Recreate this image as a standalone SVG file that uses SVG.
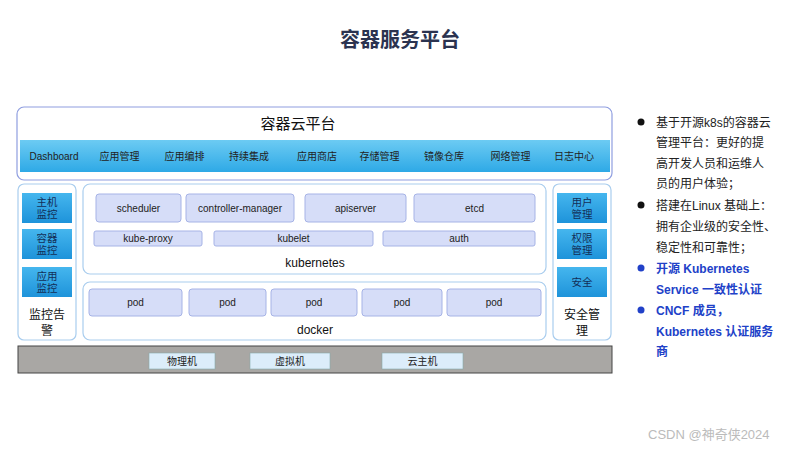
<svg xmlns="http://www.w3.org/2000/svg" width="800" height="450" viewBox="0 0 800 450">
<defs>
<linearGradient id="barG" x1="0" y1="0" x2="0" y2="1">
<stop offset="0" stop-color="#6ccbf3"/><stop offset="1" stop-color="#2ea9e6"/>
</linearGradient>
<linearGradient id="sideG" x1="0" y1="0" x2="0" y2="1">
<stop offset="0" stop-color="#45b6ee"/><stop offset="1" stop-color="#1e93da"/>
</linearGradient>
<style>
text{font-family:"Liberation Sans","Noto Sans CJK SC",sans-serif;}
.frame{fill:#fff;stroke:#a9cdee;stroke-width:1.2;}
.topframe{fill:#fff;stroke:#8f9ee0;stroke-width:1.2;}
.comp{fill:#d6ddf8;stroke:#a6b3e6;stroke-width:1;}
.side{fill:url(#sideG);}
.t10{font-size:10px;fill:#222;text-anchor:middle;}
.st{font-size:10.5px;fill:#132f58;text-anchor:middle;}
.lbl{font-size:12px;fill:#111;text-anchor:middle;}
.host{fill:#dcedfa;stroke:#8aa;stroke-width:0.6;}
.note{font-size:12px;fill:#222;}
.blue{font-size:12px;fill:#2141c8;font-weight:bold;}
</style>
</defs>
<rect width="800" height="450" fill="#fff"/>
<text x="400" y="47" font-size="20" font-weight="bold" fill="#2b3350" text-anchor="middle">容器服务平台</text>

<g id="cloud-platform">
<rect class="topframe" x="17" y="107" width="595" height="73" rx="7"/>
<text x="298" y="129" font-size="15" fill="#111" text-anchor="middle">容器云平台</text>
<rect x="20" y="140" width="590" height="32" fill="url(#barG)"/>
<g class="t10">
<text x="54" y="160">Dashboard</text>
<text x="119.5" y="160">应用管理</text>
<text x="184.5" y="160">应用编排</text>
<text x="249" y="160">持续集成</text>
<text x="317" y="160">应用商店</text>
<text x="379.5" y="160">存储管理</text>
<text x="444" y="160">镜像仓库</text>
<text x="510.5" y="160">网络管理</text>
<text x="574" y="160">日志中心</text>
</g>
</g>

<g id="monitor">
<rect class="frame" x="18" y="184" width="58" height="156" rx="6"/>
<rect class="side" x="22" y="193" width="50" height="30"/>
<rect class="side" x="22" y="229" width="50" height="30"/>
<rect class="side" x="22" y="267" width="50" height="30"/>
<text class="st" x="47" y="206">主机</text><text class="st" x="47" y="218">监控</text>
<text class="st" x="47" y="242">容器</text><text class="st" x="47" y="254">监控</text>
<text class="st" x="47" y="280">应用</text><text class="st" x="47" y="292">监控</text>
<text class="lbl" x="47" y="319">监控告</text><text class="lbl" x="47" y="335">警</text>
</g>

<g id="kubernetes">
<rect class="frame" x="83" y="184" width="463" height="90" rx="7"/>
<rect class="comp" x="96" y="194" width="85" height="28" rx="3"/>
<rect class="comp" x="186" y="194" width="108" height="28" rx="3"/>
<rect class="comp" x="305" y="194" width="101" height="28" rx="3"/>
<rect class="comp" x="414" y="194" width="121" height="28" rx="3"/>
<rect class="comp" x="94" y="231" width="108" height="15" rx="2"/>
<rect class="comp" x="214" y="231" width="159" height="15" rx="2"/>
<rect class="comp" x="383" y="231" width="152" height="15" rx="2"/>
<g class="t10">
<text x="138.5" y="212">scheduler</text>
<text x="240" y="212">controller-manager</text>
<text x="355.5" y="212">apiserver</text>
<text x="474.5" y="212">etcd</text>
<text x="148" y="242">kube-proxy</text>
<text x="293.5" y="242">kubelet</text>
<text x="459" y="242">auth</text>
</g>
<text class="lbl" x="315" y="267">kubernetes</text>
</g>

<g id="docker">
<rect class="frame" x="83" y="282" width="463" height="58" rx="7"/>
<rect class="comp" x="89" y="289" width="93" height="27" rx="3"/>
<rect class="comp" x="189" y="289" width="77" height="27" rx="3"/>
<rect class="comp" x="271" y="289" width="86" height="27" rx="3"/>
<rect class="comp" x="362" y="289" width="80" height="27" rx="3"/>
<rect class="comp" x="447" y="289" width="94" height="27" rx="3"/>
<g class="t10">
<text x="135.5" y="306">pod</text>
<text x="227.5" y="306">pod</text>
<text x="314" y="306">pod</text>
<text x="402" y="306">pod</text>
<text x="494" y="306">pod</text>
</g>
<text class="lbl" x="315" y="334">docker</text>
</g>

<g id="security">
<rect class="frame" x="553" y="184" width="58" height="156" rx="6"/>
<rect class="side" x="557" y="193" width="50" height="30"/>
<rect class="side" x="557" y="229" width="50" height="30"/>
<rect class="side" x="557" y="267" width="50" height="30"/>
<text class="st" x="582" y="206">用户</text><text class="st" x="582" y="218">管理</text>
<text class="st" x="582" y="242">权限</text><text class="st" x="582" y="254">管理</text>
<text class="st" x="582" y="286">安全</text>
<text class="lbl" x="582" y="319">安全管</text><text class="lbl" x="582" y="335">理</text>
</g>

<g id="infrastructure">
<rect x="18" y="346" width="594" height="27" fill="#a9a7a4" stroke="#444" stroke-width="1"/>
<rect class="host" x="149" y="353" width="66" height="16"/>
<rect class="host" x="250" y="353" width="80" height="16"/>
<rect class="host" x="382" y="353" width="81" height="16"/>
<g class="t10">
<text x="182" y="365">物理机</text>
<text x="290" y="365">虚拟机</text>
<text x="422.5" y="365">云主机</text>
</g>
</g>

<g id="notes">
<circle cx="641" cy="122" r="3.5" fill="#111"/>
<text class="note" x="656" y="127">基于开源k8s的容器云</text>
<text class="note" x="656" y="147">管理平台：更好的提</text>
<text class="note" x="656" y="168">高开发人员和运维人</text>
<text class="note" x="656" y="188">员的用户体验；</text>
<circle cx="641" cy="205" r="3.5" fill="#111"/>
<text class="note" x="656" y="210">搭建在Linux 基础上：</text>
<text class="note" x="656" y="231">拥有企业级的安全性、</text>
<text class="note" x="656" y="252">稳定性和可靠性；</text>
<circle cx="641" cy="268" r="3.5" fill="#2141c8"/>
<text class="blue" x="656" y="273">开源 Kubernetes</text>
<text class="blue" x="656" y="294">Service 一致性认证</text>
<circle cx="641" cy="310" r="3.5" fill="#2141c8"/>
<text class="blue" x="656" y="315">CNCF 成员，</text>
<text class="blue" x="656" y="336">Kubernetes 认证服务</text>
<text class="blue" x="656" y="356">商</text>
</g>
<text x="648" y="439" font-size="13" fill="#bbb">CSDN @神奇侠2024</text>
</svg>
